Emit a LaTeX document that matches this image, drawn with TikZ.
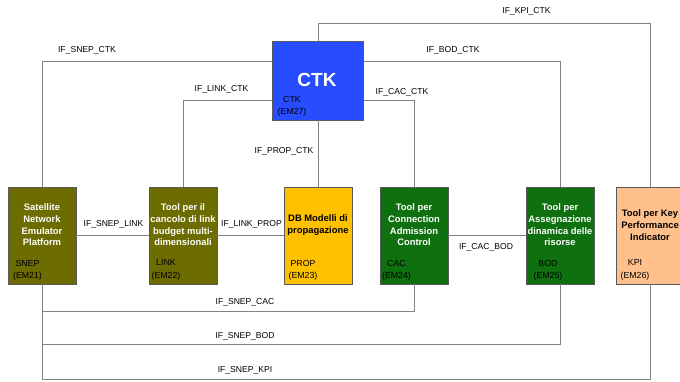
\documentclass[tikz,border=0pt]{standalone}
\usepackage{fontspec}
\setmainfont{Liberation Sans}
\definecolor{olivebox}{RGB}{108,108,0}
\definecolor{goldbox}{RGB}{255,192,0}
\definecolor{greenbox}{RGB}{14,112,14}
\definecolor{peachbox}{RGB}{255,192,140}
\definecolor{ctkblue}{RGB}{40,76,255}
\definecolor{boxedge}{RGB}{90,90,90}
\definecolor{linegray}{RGB}{130,130,130}
\begin{document}
\begin{tikzpicture}[x=1pt,y=-1pt,
  box/.style={draw=boxedge, line width=0.6pt, minimum width=68pt, minimum height=96.5pt, inner sep=0pt},
  ttl/.style={font=\fontsize{9.4}{11.7}\selectfont\bfseries, align=center, inner sep=0pt},
  tag/.style={font=\fontsize{8.8}{12.3}\selectfont, align=center, inner sep=0pt},
  iflab/.style={font=\fontsize{8.6}{10}\selectfont, inner sep=0pt},
  conn/.style={draw=linegray, line width=0.8pt}]
\useasboundingbox (0,0) rectangle (680,381);
\clip (0,0) rectangle (680,381);
% boxes
\node[box, fill=olivebox] (snep) at (42,235.75) {};
\node[box, fill=olivebox] (link) at (183,235.75) {};
\node[box, fill=goldbox] (prop) at (318,235.75) {};
\node[box, fill=greenbox] (cac) at (414,235.75) {};
\node[box, fill=greenbox] (bod) at (560,235.75) {};
\node[box, fill=peachbox] (kpi) at (650,235.75) {};
\node[box, fill=ctkblue, minimum width=90.6pt, minimum height=78.7pt] (ctk) at (318,80.65) {};
% titles
\node[ttl, text=white] (snept) at (42,225) {Satellite\\Network\\Emulator\\Platform};
\node[ttl, text=white] (linkt) at (183,225) {Tool per il\\cancolo di link\\budget multi-\\dimensionali};
\node[ttl, text=black] (propt) at (318,225) {DB Modelli di\\propagazione};
\node[ttl, text=white] (cact) at (414,225) {Tool per\\Connection\\Admission\\Control};
\node[ttl, text=white] (bodt) at (560,225) {Tool per\\Assegnazione\\dinamica delle\\risorse};
\node[ttl, text=black] (kpit) at (650,225) {Tool per Key\\Performance\\Indicator};
\node[font=\fontsize{19}{22}\selectfont\bfseries, text=white, inner sep=0pt] (ctkt) at (317,80) {CTK};
% tags
\node[tag] (snepg) at (27.5,270) {SNEP\\(EM21)};
\node[tag] (linkg) at (166,270) {LINK\\(EM22)};
\node[tag] (propg) at (303,270) {PROP\\(EM23)};
\node[tag] (cacg) at (396.5,270) {CAC\\(EM24)};
\node[tag] (bodg) at (548,270) {BOD\\(EM25)};
\node[tag] (kpig) at (635,270) {KPI\\(EM26)};
\node[tag] (ctkg) at (292,106) {CTK\\(EM27)};
% helper levels
\coordinate (yk) at (0,23.3);
\coordinate (yt) at (0,61);
\coordinate (ym) at (0,100.7);
\coordinate (yb1) at (0,311.7);
\coordinate (yb2) at (0,344.5);
\coordinate (yb3) at (0,379);
% connectors
\draw[conn] (ctk.north) -- (ctk.north |- yk) -| (kpi.north);
\draw[conn] (snep.north) |- (ctk.west |- yt);
\draw[conn] (ctk.east |- yt) -| (bod.north);
\draw[conn] (link.north) |- (ctk.west |- ym);
\draw[conn] (ctk.east |- ym) -| (cac.north);
\draw[conn] (ctk.south) -- (prop.north);
\draw[conn] (snep.east) -- (link.west);
\draw[conn] (link.east) -- (prop.west);
\draw[conn] (cac.east) -- (bod.west);
\draw[conn] (snep.south) |- (cac.south |- yb1) -- (cac.south);
\draw[conn] (snep.south) |- (bod.south |- yb2) -- (bod.south);
\draw[conn] (snep.south) |- (kpi.south |- yb3) -- (kpi.south);
% interface labels
\node[iflab] (lkpictk) at (526.5,11) {IF\_KPI\_CTK};
\node[iflab] (lsnepctk) at (87,50.5) {IF\_SNEP\_CTK};
\node[iflab] (lbodctk) at (453,50.7) {IF\_BOD\_CTK};
\node[iflab] (llinkctk) at (221.5,89.3) {IF\_LINK\_CTK};
\node[iflab] (lcacctk) at (402,92.3) {IF\_CAC\_CTK};
\node[iflab] (lpropctk) at (284,151.7) {IF\_PROP\_CTK};
\node[iflab] (lsneplink) at (113.5,224.5) {IF\_SNEP\_LINK};
\node[iflab] (llinkprop) at (251.5,224.5) {IF\_LINK\_PROP};
\node[iflab] (lcacbod) at (486,247.7) {IF\_CAC\_BOD};
\node[iflab] (lsnepcac) at (245,302.7) {IF\_SNEP\_CAC};
\node[iflab] (lsnepbod) at (245,336) {IF\_SNEP\_BOD};
\node[iflab] (lsnepkpi) at (245,370) {IF\_SNEP\_KPI};
\end{tikzpicture}
\end{document}
